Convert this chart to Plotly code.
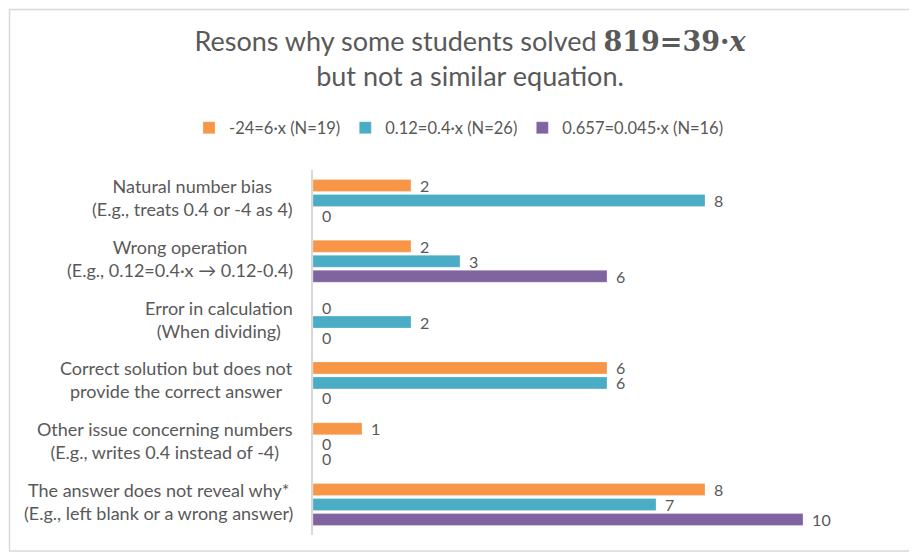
import plotly.graph_objects as go

categories = [
    "Natural number bias<br>(E.g., treats 0.4 or -4 as 4)",
    "Wrong operation<br>(E.g., 0.12=0.4·x → 0.12-0.4)",
    "Error in calculation<br>(When dividing)",
    "Correct solution but does not<br>provide the correct answer",
    "Other issue concerning numbers<br>(E.g., writes 0.4 instead of -4)",
    "The answer does not reveal why*<br>(E.g., left blank or a wrong answer)",
]
series_names = ["-24=6·x (N=19)", "0.12=0.4·x (N=26)", "0.657=0.045·x (N=16)"]
values_a = [2, 2, 0, 6, 1, 8]
values_b = [8, 3, 2, 6, 0, 7]
values_c = [0, 6, 0, 0, 0, 10]
colors = ["#F79646", "#4BACC6", "#8064A2"]

OFF = 8  # page body margin
W, H = 917 - OFF, 554 - OFF
L, R, T, B = 313 - OFF, 65, 170 - OFF, 19
FONT = "Lato"
GRAY = "#595959"

fig = go.Figure()
for name, vals, col in zip(series_names, [values_a, values_b, values_c], colors):
    fig.add_trace(go.Bar(
        y=categories, x=vals, name=name, orientation="h",
        marker=dict(color=col, line=dict(color="rgba(255,255,255,0.5)", width=0.5)),
        text=vals, texttemplate="\u00a0\u2009%{x}", textposition="outside",
        constraintext="none",
        textfont=dict(family=FONT, size=16, color=GRAY),
        cliponaxis=False,
    ))

pw = W - L - R
ph = H - T - B
def px(x):  # screen pixel -> paper
    return (x - OFF - L) / pw
def py(y):
    return (H - B - (y - OFF)) / ph

for c in categories:
    fig.add_annotation(
        x=px(295), xref="paper", y=c, yref="y", text=c, yshift=3,
        xanchor="right", yanchor="middle", align="center", showarrow=False,
        font=dict(family=FONT, size=18, color=GRAY),
    )

fig.add_shape(type="rect", xref="paper", yref="paper",
              x0=px(9.5), x1=px(914), y0=py(551), y1=py(9.5),
              line=dict(color="#D9D9D9", width=1.5), layer="below")

fig.update_layout(
    width=W, height=H,
    margin=dict(l=L, r=R, t=T, b=B, autoexpand=False),
    paper_bgcolor="white", plot_bgcolor="white",
    barmode="group", bargap=0.26, bargroupgap=0.2,
    title=dict(
        text="Resons why some students solved <span style=\"font-family:'DejaVu Serif'\"><b>819=39·</b><i><b>x</b></i></span><br>but not a similar equation.",
        x=(470 - OFF) / W, xanchor="center", xref="container",
        y=1 - 43 / H, yanchor="middle", yref="container",
        font=dict(family=FONT, size=27, color=GRAY),
    ),
    legend=dict(
        orientation="h", x=px(459), xanchor="center", y=py(128), yanchor="middle",
        font=dict(family=FONT, size=16.5, color=GRAY), traceorder="normal",
    ),
    xaxis=dict(range=[0, 11], visible=False, showgrid=False, zeroline=False),
    yaxis=dict(autorange="reversed", showticklabels=False, ticks="",
               showline=True, linecolor="#D9D9D9", linewidth=2, showgrid=False),
    showlegend=True,
)

fig.write_html("out.html")
